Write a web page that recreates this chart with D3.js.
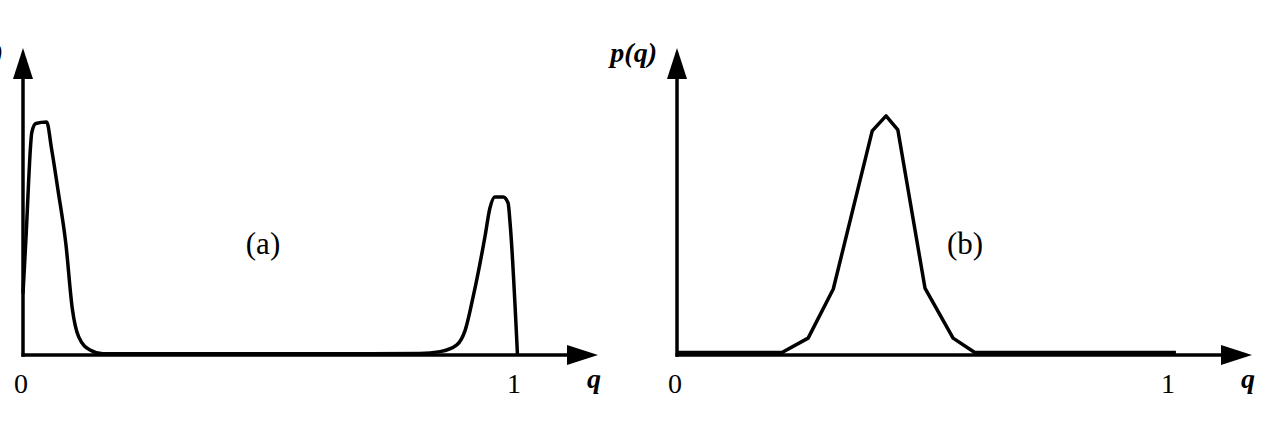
<!DOCTYPE html>
<html>
<head>
<meta charset="utf-8">
<script src="https://cdn.jsdelivr.net/npm/d3@7"></script>
<style>
  html, body { margin: 0; padding: 0; background: #fff; }
  svg { display: block; }
</style>
</head>
<body>
<svg id="chart" width="1272" height="440"></svg>
<script>
// ---- data ----
const qA = [0, 0.006, 0.018, 0.026, 0.048, 0.058, 0.071, 0.087, 0.100, 0.113, 0.136, 0.162, 0.30, 0.50, 0.70, 0.805, 0.846, 0.880, 0.897, 0.913, 0.937, 0.947, 0.957, 0.974, 0.984, 0.988, 1.003];
const pA = [0.20, 0.38, 0.726, 0.754, 0.759, 0.671, 0.537, 0.361, 0.151, 0.059, 0.016, 0.004, 0.004, 0.004, 0.004, 0.005, 0.011, 0.033, 0.081, 0.189, 0.385, 0.478, 0.515, 0.515, 0.495, 0.430, 0.0];

const qB = [0, 0.213, 0.266, 0.317, 0.396, 0.424, 0.448, 0.503, 0.560, 0.604, 1.012];
const pB = [0.008, 0.008, 0.055, 0.215, 0.730, 0.779, 0.733, 0.218, 0.055, 0.008, 0.008];

const tickValues = [0, 1];
const tickLabels = ["0", "1"];
const axisLabelX = "q";
const axisLabelY = "p(q)";
const panelLabels = ["(a)", "(b)"];

// ---- layout ----
const svg = d3.select("#chart");
svg.append("rect").attr("width", 1272).attr("height", 440).attr("fill", "#fff");

const panels = [
  { q: qA, p: pA, x0: 23, x1: 516, axisEnd: 598, label: panelLabels[0], labelX: 263, labelY: 254, curve: d3.curveMonotoneX, yLabelX: 3 },
  { q: qB, p: pB, x0: 677, x1: 1170, axisEnd: 1252, label: panelLabels[1], labelX: 965, labelY: 254, curve: d3.curveLinear, yLabelX: 657 }
];

const yBase = 355;
const yTop = 48;
const serif = "Liberation Serif, Times New Roman, serif";

panels.forEach(pn => {
  const x = d3.scaleLinear().domain([0, 1]).range([pn.x0, pn.x1]);
  const y = d3.scaleLinear().domain([0, 1]).range([yBase, yTop]);
  const g = svg.append("g");

  // x-axis line + arrow
  g.append("line")
    .attr("x1", x(0) - 1.5).attr("y1", y(0))
    .attr("x2", pn.axisEnd - 25).attr("y2", y(0))
    .attr("stroke", "#000").attr("stroke-width", 3.5);
  g.append("path")
    .attr("d", `M${pn.axisEnd},${y(0)} L${pn.axisEnd - 31},${y(0) - 10} L${pn.axisEnd - 31},${y(0) + 10} Z`)
    .attr("fill", "#000");

  // y-axis line + arrow
  g.append("line")
    .attr("x1", x(0)).attr("y1", y(0) + 1.75)
    .attr("x2", x(0)).attr("y2", yTop + 25)
    .attr("stroke", "#000").attr("stroke-width", 3.5);
  g.append("path")
    .attr("d", `M${x(0)},${yTop} L${x(0) - 10},${yTop + 31} L${x(0) + 10},${yTop + 31} Z`)
    .attr("fill", "#000");

  // curve
  const data = pn.q.map((qv, i) => [qv, pn.p[i]]);
  g.append("path")
    .datum(data)
    .attr("d", d3.line().x(d => x(d[0])).y(d => y(d[1])).curve(pn.curve))
    .attr("fill", "none")
    .attr("stroke", "#000")
    .attr("stroke-width", 3.5)
    .attr("stroke-linejoin", "round");

  // tick labels
  tickValues.forEach((t, i) => {
    g.append("text")
      .attr("x", x(t) - (i === 0 ? 2 : 2)).attr("y", 393)
      .attr("text-anchor", "middle")
      .attr("font-family", serif)
      .attr("font-size", 28)
      .text(tickLabels[i]);
  });

  // x axis title
  g.append("text")
    .attr("x", pn.axisEnd - 4).attr("y", 388)
    .attr("text-anchor", "middle")
    .attr("font-family", serif)
    .attr("font-size", 28).attr("font-style", "italic").attr("font-weight", "bold")
    .text(axisLabelX);

  // y axis title
  g.append("text")
    .attr("x", pn.yLabelX).attr("y", 62)
    .attr("text-anchor", "end")
    .attr("font-family", serif)
    .attr("font-size", 28).attr("font-style", "italic").attr("font-weight", "bold")
    .text(axisLabelY);

  // panel label
  g.append("text")
    .attr("x", pn.labelX).attr("y", pn.labelY)
    .attr("text-anchor", "middle")
    .attr("font-family", serif)
    .attr("font-size", 31)
    .text(pn.label);
});
</script>
</body>
</html>
